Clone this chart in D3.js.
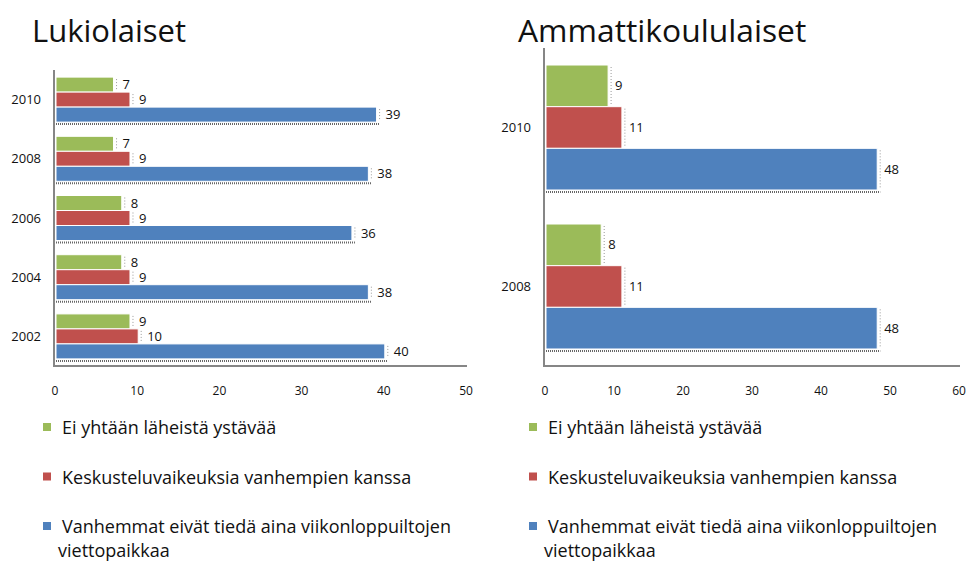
<!DOCTYPE html>
<html>
<head>
<meta charset="utf-8">
<script src="https://cdn.jsdelivr.net/npm/d3@7"></script>
<style>
  body { margin: 0; background: #fff; }
  svg text { font-family: "Open Sans", "Noto Sans", sans-serif; fill: #111; }
</style>
</head>
<body>
<div id="chart"></div>
<script>
const seriesNames = [
  "Ei yhtään läheistä ystävää",
  "Keskusteluvaikeuksia vanhempien kanssa",
  "Vanhemmat eivät tiedä aina viikonloppuiltojen viettopaikkaa"
];
const seriesColors = ["#9bbb59", "#c0504d", "#4f81bd"];

const lukioYears = ["2010", "2008", "2006", "2004", "2002"];
const lukioFriend = [7, 7, 8, 8, 9];
const lukioTalk = [9, 9, 9, 9, 10];
const lukioWeekend = [39, 38, 36, 38, 40];
const lukioTicks = [0, 10, 20, 30, 40, 50];

const ammYears = ["2010", "2008"];
const ammFriend = [9, 8];
const ammTalk = [11, 11];
const ammWeekend = [48, 48];
const ammTicks = [0, 10, 20, 30, 40, 50, 60];

const w = 968, h = 563;
const svg = d3.select("#chart").append("svg").attr("width", w).attr("height", h);

function drawChart(cfg) {
  const g = svg.append("g");
  const rows = cfg.years.map((y, i) => ({year: y, values: [cfg.friend[i], cfg.talk[i], cfg.weekend[i]]}));

  const x = d3.scaleLinear().domain([0, d3.max(cfg.ticks)]).range([cfg.left, cfg.right]);
  const y = d3.scaleBand().domain(cfg.years).range([cfg.top, cfg.bottom])
    .paddingInner(cfg.pad).paddingOuter(cfg.pad / 2);
  const ySub = d3.scaleBand().domain([0, 1, 2]).range([0, y.bandwidth()]);

  g.append("text").attr("x", cfg.titleX).attr("y", 42)
    .style("font-size", cfg.titleSize).text(cfg.title);

  const groups = g.selectAll("g.year").data(rows).enter().append("g")
    .attr("class", "year")
    .attr("transform", d => `translate(0,${y(d.year)})`);

  groups.selectAll("rect").data(d => d.values).enter().append("rect")
    .attr("x", x(0) + 1)
    .attr("y", (d, i) => ySub(i))
    .attr("width", d => x(d) - x(0))
    .attr("height", ySub.bandwidth())
    .attr("fill", (d, i) => seriesColors[i])
    .attr("stroke", "#fff").attr("stroke-width", 1);

  // faint dotted edges like in the original render
  groups.selectAll("line.edge").data(d => d.values).enter().append("line")
    .attr("class", "edge")
    .attr("x1", d => x(d) + 4).attr("x2", d => x(d) + 4)
    .attr("y1", (d, i) => ySub(i) + 2).attr("y2", (d, i) => ySub(i) + ySub.bandwidth() - 2)
    .attr("stroke", "#999").attr("stroke-dasharray", "1,2");
  groups.append("line")
    .attr("x1", x(0) + 1).attr("x2", d => x(d.values[2]) + 4)
    .attr("y1", y.bandwidth() + 2).attr("y2", y.bandwidth() + 2)
    .attr("stroke", "#666").attr("stroke-width", 2).attr("stroke-dasharray", "1,1");

  groups.selectAll("text.val").data(d => d.values).enter().append("text")
    .attr("class", "val")
    .attr("x", d => x(d) + cfg.labelGap)
    .attr("y", (d, i) => ySub(i) + ySub.bandwidth() / 2)
    .attr("dy", "0.35em")
    .style("font-size", "13px")
    .text(d => d);

  groups.append("text")
    .attr("x", cfg.left - 14).attr("y", y.bandwidth() / 2)
    .attr("dy", "0.35em").attr("text-anchor", "end")
    .style("font-size", "13px")
    .text(d => d.year);

  // axes
  g.append("line").attr("x1", cfg.left - 1).attr("x2", cfg.left - 1)
    .attr("y1", cfg.top).attr("y2", cfg.bottom + 1)
    .attr("stroke", "#868686").attr("stroke-width", 2);
  g.append("line").attr("x1", cfg.left - 2).attr("x2", cfg.right + 1)
    .attr("y1", cfg.bottom).attr("y2", cfg.bottom)
    .attr("stroke", "#868686").attr("stroke-width", 2);

  g.selectAll("text.tick").data(cfg.ticks).enter().append("text")
    .attr("class", "tick")
    .attr("x", d => x(d)).attr("y", 395)
    .attr("text-anchor", "middle")
    .style("font-size", "12px")
    .text(d => d);

  // legend
  const lg = g.selectAll("g.leg").data(seriesNames).enter().append("g")
    .attr("class", "leg")
    .attr("transform", (d, i) => `translate(${cfg.legendX},${434 + i * 49.5})`);
  lg.append("rect").attr("x", 0).attr("y", -11).attr("width", 8).attr("height", 8)
    .attr("fill", (d, i) => seriesColors[i]);
  lg.append("text").attr("x", 18).attr("y", 0)
    .style("font-size", "18px")
    .each(function(d) {
      const t = d3.select(this);
      const parts = d.length > 45 ? [d.slice(0, d.lastIndexOf(" ")), d.slice(d.lastIndexOf(" ") + 1)] : [d];
      parts.forEach((p, k) => {
        t.append("tspan").attr("x", k === 0 ? 19 : 15).attr("dy", k === 0 ? 0 : 24).text(p);
      });
    });
}

drawChart({
  title: "Lukiolaiset", titleX: 32, titleSize: "31px",
  years: lukioYears, friend: lukioFriend, talk: lukioTalk, weekend: lukioWeekend,
  ticks: lukioTicks,
  left: 55, right: 466, top: 70, bottom: 366, pad: 0.24, labelGap: 10,
  legendX: 43
});

drawChart({
  title: "Ammattikoululaiset", titleX: 518, titleSize: "31.8px",
  years: ammYears, friend: ammFriend, talk: ammTalk, weekend: ammWeekend,
  ticks: ammTicks,
  left: 545, right: 959, top: 48, bottom: 366, pad: 0.214, labelGap: 8,
  legendX: 529
});
</script>
</body>
</html>
